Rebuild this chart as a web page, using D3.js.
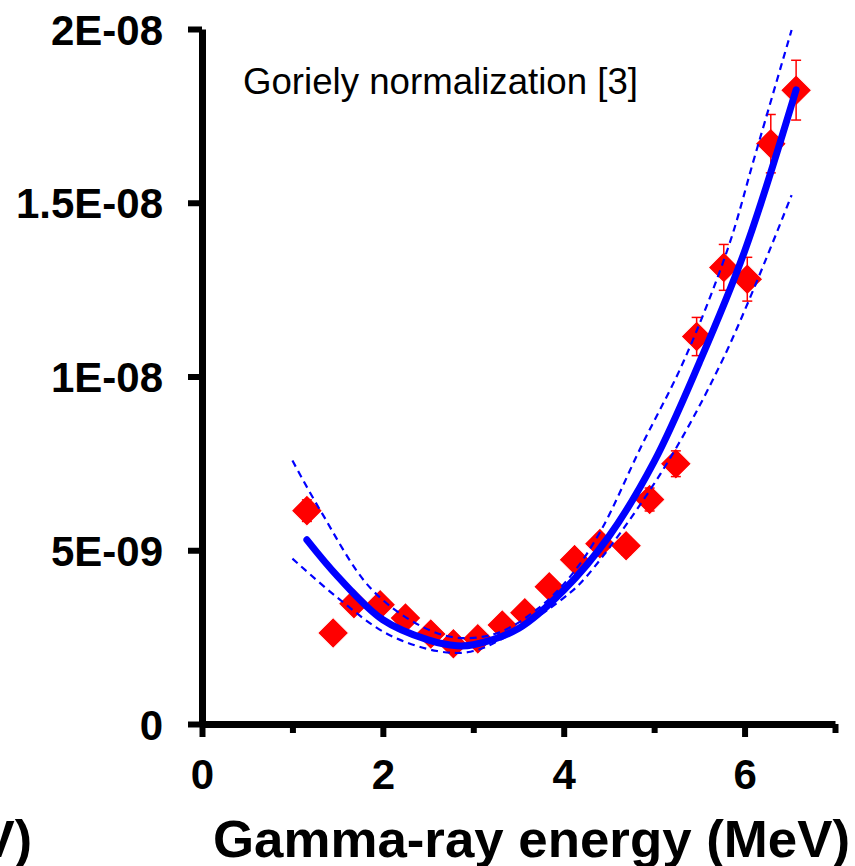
<!DOCTYPE html>
<html>
<head>
<meta charset="utf-8">
<script src="https://cdn.jsdelivr.net/npm/d3@7"></script>
<style>
  body { margin: 0; background: #fff; }
  svg { display: block; font-family: "Liberation Sans", Arial, sans-serif; }
</style>
</head>
<body>
<div id="chart"></div>
<script>
// measured points (MeV, strength)
const energy   = [1.16, 1.45, 1.68, 1.97, 2.25, 2.53, 2.78, 3.05, 3.32, 3.57, 3.84, 4.12, 4.40, 4.69, 4.95, 5.24, 5.47, 5.77, 6.03, 6.29, 6.57];
const strength = [6.14e-9, 2.62e-9, 3.46e-9, 3.43e-9, 3.05e-9, 2.59e-9, 2.31e-9, 2.45e-9, 2.85e-9, 3.2e-9, 3.95e-9, 4.73e-9, 5.19e-9, 5.13e-9, 6.46e-9, 7.49e-9, 11.15e-9, 13.14e-9, 12.8e-9, 16.7e-9, 18.24e-9];
const strengthErr = [0.31e-9, 0.13e-9, 0.17e-9, 0.17e-9, 0.15e-9, 0.13e-9, 0.12e-9, 0.12e-9, 0.14e-9, 0.16e-9, 0.2e-9, 0.24e-9, 0.26e-9, 0.26e-9, 0.33e-9, 0.37e-9, 0.55e-9, 0.66e-9, 0.63e-9, 0.84e-9, 0.86e-9];

// fit curve and its confidence band
const fitE = [1.16, 1.5, 2.0, 2.5, 2.82, 3.0, 3.5, 4.0, 4.5, 5.0, 5.5, 6.0, 6.57];
const fitS = [5.30e-9, 4.25e-9, 3.0e-9, 2.42e-9, 2.25e-9, 2.28e-9, 2.75e-9, 3.85e-9, 5.4e-9, 7.55e-9, 10.4e-9, 13.6e-9, 18.25e-9];
const upperE = [1.0, 1.31, 1.86, 2.42, 2.83, 3.27, 3.71, 4.08, 4.41, 4.85, 5.33, 5.82, 6.11, 6.52];
const upperS = [7.58e-9, 6.14e-9, 3.92e-9, 2.82e-9, 2.48e-9, 2.62e-9, 3.31e-9, 4.27e-9, 5.56e-9, 7.95e-9, 10.46e-9, 13.72e-9, 16.31e-9, 19.97e-9];
const lowerE = [1.0, 1.5, 2.05, 2.6, 2.97, 3.34, 4.0, 4.24, 5.07, 5.77, 6.52];
const lowerS = [4.76e-9, 3.63e-9, 2.59e-9, 2.10e-9, 2.08e-9, 2.48e-9, 3.63e-9, 4.21e-9, 7.2e-9, 10.55e-9, 15.22e-9];

const yTicks = [0, 5e-9, 1e-8, 1.5e-8, 2e-8];
const yTickLabels = ["0", "5E-09", "1E-08", "1.5E-08", "2E-08"];
const xMajor = [0, 2, 4, 6];
const xMinor = [1, 3, 5, 7];

const W = 855, H = 866;
const svg = d3.select("#chart").append("svg")
    .attr("width", W)
    .attr("height", H);

const x = d3.scaleLinear().domain([0, 7]).range([202, 835]);
const y = d3.scaleLinear().domain([0, 2e-8]).range([724, 29]);

// y axis
const yAxis = svg.append("g")
    .attr("transform", `translate(${x(0)},0)`)
    .call(d3.axisLeft(y).tickValues(yTicks).tickSize(14).tickSizeOuter(0)
        .tickFormat((d, i) => yTickLabels[i]));
yAxis.select(".domain").attr("stroke-width", 7);
yAxis.selectAll(".tick line").attr("stroke-width", 6);
yAxis.selectAll(".tick text")
    .attr("x", -39)
    .attr("dy", "0.36em")
    .attr("font-size", 42)
    .attr("font-weight", "bold")
    .attr("font-family", "Liberation Sans, Arial, sans-serif")
    .attr("fill", "#000");

// x axis
const xAxis = svg.append("g")
    .attr("transform", `translate(0,${y(0)})`)
    .call(d3.axisBottom(x).tickValues(xMajor).tickSize(13).tickSizeOuter(0)
        .tickFormat(d3.format("d")));
xAxis.select(".domain").attr("stroke-width", 7);
xAxis.selectAll(".tick line").attr("stroke-width", 6);
xAxis.selectAll(".tick text")
    .attr("y", 65)
    .attr("dy", 0)
    .attr("font-size", 42)
    .attr("font-weight", "bold")
    .attr("font-family", "Liberation Sans, Arial, sans-serif")
    .attr("fill", "#000");

svg.append("g")
    .attr("transform", `translate(0,${y(0)})`)
    .call(d3.axisBottom(x).tickValues(xMinor).tickSize(9).tickFormat(""))
    .call(g => g.select(".domain").remove())
    .selectAll(".tick line").attr("stroke-width", 6);

// data markers
const pts = energy.map((e, i) => ({e, s: strength[i], err: strengthErr[i]}));

svg.append("g").selectAll("path")
    .data(pts)
    .join("path")
    .attr("d", d3.symbol().type(d3.symbolSquare).size(480))
    .attr("transform", d => `translate(${x(d.e)},${y(d.s)}) rotate(45)`)
    .attr("fill", "#ff0000")
    .attr("stroke", "#fff")
    .attr("stroke-width", 1);

// error bars
const eb = svg.append("g").attr("stroke", "#ff0000").attr("stroke-width", 1.5);
eb.selectAll(".bar")
    .data(pts)
    .join("line")
    .attr("x1", d => x(d.e)).attr("x2", d => x(d.e))
    .attr("y1", d => y(d.s + d.err)).attr("y2", d => y(d.s - d.err));
eb.selectAll(".capT")
    .data(pts)
    .join("line")
    .attr("class", "capT")
    .attr("x1", d => x(d.e) - 5).attr("x2", d => x(d.e) + 5)
    .attr("y1", d => y(d.s + d.err)).attr("y2", d => y(d.s + d.err));
eb.selectAll(".capB")
    .data(pts)
    .join("line")
    .attr("class", "capB")
    .attr("x1", d => x(d.e) - 5).attr("x2", d => x(d.e) + 5)
    .attr("y1", d => y(d.s - d.err)).attr("y2", d => y(d.s - d.err));

// fit and band
const line = d3.line()
    .x(d => x(d[0]))
    .y(d => y(d[1]))
    .curve(d3.curveCatmullRom);

svg.append("path")
    .datum(upperE.map((e, i) => [e, upperS[i]]))
    .attr("d", line)
    .attr("fill", "none")
    .attr("stroke", "#0000ff")
    .attr("stroke-width", 2.2)
    .attr("stroke-dasharray", "7,5");

svg.append("path")
    .datum(lowerE.map((e, i) => [e, lowerS[i]]))
    .attr("d", line)
    .attr("fill", "none")
    .attr("stroke", "#0000ff")
    .attr("stroke-width", 2.2)
    .attr("stroke-dasharray", "7,5");

svg.append("path")
    .datum(fitE.map((e, i) => [e, fitS[i]]))
    .attr("d", line)
    .attr("fill", "none")
    .attr("stroke", "#0000ff")
    .attr("stroke-width", 7)
    .attr("stroke-linecap", "round");

// texts
svg.append("text")
    .attr("x", 243)
    .attr("y", 94)
    .attr("font-size", 36)
    .attr("textLength", 395)
    .attr("lengthAdjust", "spacingAndGlyphs")
    .text("Goriely normalization [3]");

svg.append("text")
    .attr("x", 213)
    .attr("y", 857)
    .attr("font-size", 52)
    .attr("font-weight", "bold")
    .attr("textLength", 637)
    .attr("lengthAdjust", "spacingAndGlyphs")
    .text("Gamma-ray energy (MeV)");

svg.append("text")
    .attr("x", 32)
    .attr("y", 857)
    .attr("text-anchor", "end")
    .attr("font-size", 52)
    .attr("font-weight", "bold")
    .text("(MeV)");
</script>
</body>
</html>
